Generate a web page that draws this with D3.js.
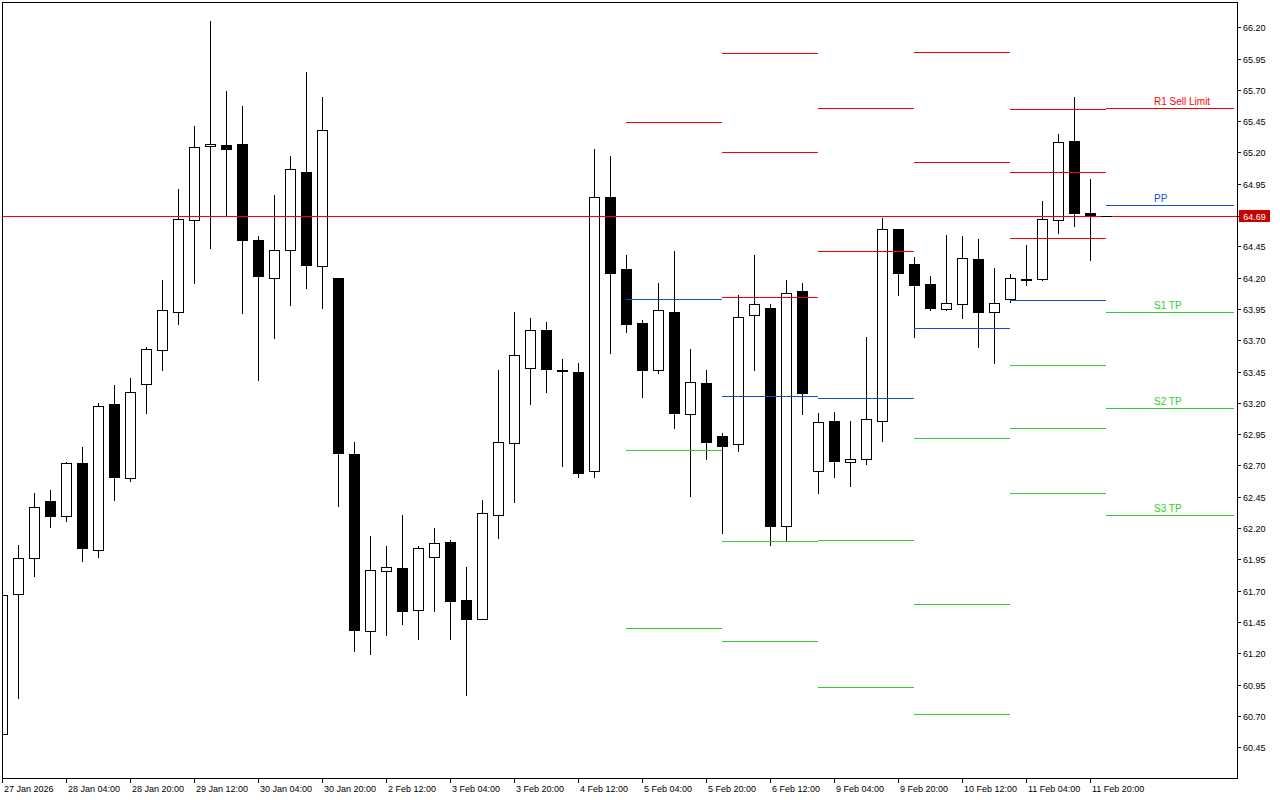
<!DOCTYPE html>
<html>
<head>
<meta charset="utf-8">
<script src="https://cdn.jsdelivr.net/npm/d3@7"></script>
<style>
html,body{margin:0;padding:0;background:#fff;}
svg{display:block;}
text{font-family:"Liberation Sans",Arial,sans-serif;}
</style>
</head>
<body>
<svg id="chart" width="1280" height="800" shape-rendering="crispEdges"></svg>
<script>
// ---- DATA (H4 candles, 27 Jan 12:00 .. 11 Feb 20:00) ----
const opens  = [60.559,61.674,61.959,62.420,62.294,62.723,62.023,63.194,62.598,63.352,63.623,63.927,64.662,65.253,65.263,65.271,64.504,64.198,64.422,65.045,64.291,64.201,62.795,61.379,61.858,61.882,61.547,61.970,62.090,61.627,61.475,62.302,62.881,63.476,63.783,63.466,63.450,62.657,64.840,64.265,63.841,63.464,63.927,63.112,63.362,62.939,62.873,63.903,63.961,62.214,64.097,62.657,63.056,62.729,62.753,63.056,64.590,64.310,64.150,63.951,63.991,64.350,63.927,64.031,64.192,64.190,64.662,65.293,64.718];
const highs  = [61.666,62.068,62.484,62.508,62.731,62.851,63.200,63.346,63.402,63.650,64.185,64.904,65.407,66.246,65.694,65.567,64.536,64.856,65.175,65.846,65.646,64.201,62.891,62.140,62.060,62.308,62.060,62.204,62.108,61.893,62.428,63.466,63.929,63.881,63.849,63.554,63.522,65.231,65.175,64.377,63.865,64.161,64.416,63.634,63.466,62.963,64.065,64.384,63.993,64.185,64.161,63.120,63.128,63.059,63.727,64.678,64.590,64.361,64.217,64.544,64.536,64.512,64.273,64.230,64.464,64.816,65.351,65.639,64.984];
const lows   = [60.559,60.841,61.815,62.206,62.254,61.935,61.967,62.422,62.574,63.120,63.460,63.828,64.155,64.435,64.694,63.916,63.380,63.716,63.980,64.115,63.956,62.374,61.216,61.192,61.344,61.432,61.312,61.535,61.312,60.865,61.475,62.119,62.406,63.189,63.285,62.694,62.606,62.606,63.596,63.764,63.245,63.436,62.997,62.454,62.750,62.158,62.813,63.460,62.063,62.100,63.109,62.478,62.606,62.534,62.713,62.893,64.063,63.724,63.940,63.940,63.876,63.644,63.519,64.007,64.139,64.182,64.555,64.611,64.339];
const closes = [61.666,61.962,62.369,62.300,62.721,62.039,63.178,62.606,63.288,63.631,63.943,64.670,65.245,65.269,65.226,64.499,64.211,64.422,65.069,64.299,65.381,62.797,61.384,61.866,61.890,61.535,62.042,62.082,61.615,61.472,62.321,62.889,63.583,63.783,63.468,63.462,62.638,64.840,64.235,63.828,63.460,63.943,63.117,63.368,62.885,62.853,63.887,63.991,62.214,64.079,63.277,63.048,62.734,62.753,63.072,64.590,64.235,64.139,63.956,63.999,64.358,63.924,63.999,64.198,64.188,64.670,65.285,64.718,64.696];

const timeLabels = ["27 Jan 2026","28 Jan 04:00","28 Jan 20:00","29 Jan 12:00","30 Jan 04:00","30 Jan 20:00","2 Feb 12:00","3 Feb 04:00","3 Feb 20:00","4 Feb 12:00","5 Feb 04:00","5 Feb 20:00","6 Feb 12:00","9 Feb 04:00","9 Feb 20:00","10 Feb 12:00","11 Feb 04:00","11 Feb 20:00"];
const timeLabelBars = [0,4,8,12,16,20,24,28,32,36,40,44,48,52,56,60,64,68];

const priceTicks = [66.20,65.95,65.70,65.45,65.20,64.95,64.45,64.20,63.95,63.70,63.45,63.20,62.95,62.70,62.45,62.20,61.95,61.70,61.45,61.20,60.95,60.70,60.45];
const currentPrice = 64.69;

// Daily pivot levels (bar index where each day starts / ends)
const pivotDays  = ["5 Feb","6 Feb","9 Feb","10 Feb","11 Feb","12 Feb"];
const pivotStart = [39,45,51,57,63,69];
const pivotEnd   = [45,51,57,63,69,77];
const pivR3 = [null,65.996,null,null,65.543,null];
const pivR2 = [null,65.205,65.556,66.004,65.045,null];
const pivR1 = [65.444,64.049,64.414,65.125,64.518,65.551];
const pivPP = [64.031,63.256,63.240,63.799,64.023,64.781];
const pivS1 = [62.825,62.098,62.106,62.920,63.504,63.927];
const pivS2 = [61.403,61.299,60.932,61.595,63.000,63.160];
const pivS3 = [null,null,null,60.716,62.481,62.305];
const lastDayLabels = {R1:"R1 Sell Limit", PP:"PP", S1:"S1 TP", S2:"S2 TP", S3:"S3 TP"};

// ---- LAYOUT ----
const L = 2, T = 2, R = 1237, B = 778;
const RED = "#ff0000", BLUE = "#1450d2", GREEN = "#33cc33";

const svg = d3.select("#chart");
const x = d3.scaleLinear().domain([0, 68]).range([2.3, 1090.3]);
const y = d3.scaleLinear().domain([60.45, 66.20]).range([747.7, 27.7]);
const px = v => Math.round(v);
const py = v => Math.floor(v);

svg.append("defs").append("clipPath").attr("id","plotclip")
  .append("rect").attr("x", L+1).attr("y", T+1).attr("width", R-L-1).attr("height", B-T-1);

const plot = svg.append("g").attr("clip-path","url(#plotclip)");

// candles
const candles = d3.range(opens.length).map(i => ({i, o:opens[i], h:highs[i], l:lows[i], c:closes[i]}));
const cg = plot.append("g");
candles.forEach(d => {
  const cx = px(x(d.i));
  const yH = py(y(d.h)), yL = py(y(d.l));
  const top = py(y(Math.max(d.o, d.c))), bot = py(y(Math.min(d.o, d.c)));
  cg.append("line").attr("x1", cx+0.5).attr("x2", cx+0.5).attr("y1", yH).attr("y2", yL+1)
    .attr("stroke","#000").attr("stroke-width",1);
  if (d.c >= d.o) {
    cg.append("rect").attr("x", cx-4.5).attr("y", top+0.5).attr("width", 10).attr("height", Math.max(bot-top,1))
      .attr("fill","#fff").attr("stroke","#000").attr("stroke-width",1);
  } else {
    cg.append("rect").attr("x", cx-5).attr("y", top).attr("width", 11).attr("height", Math.max(bot-top+1,2))
      .attr("fill","#000");
  }
});

// pivot lines
const pg = plot.append("g");
const levelSets = [
  {key:"R3", vals:pivR3, color:RED},
  {key:"R2", vals:pivR2, color:RED},
  {key:"R1", vals:pivR1, color:RED},
  {key:"PP", vals:pivPP, color:BLUE},
  {key:"S1", vals:pivS1, color:GREEN},
  {key:"S2", vals:pivS2, color:GREEN},
  {key:"S3", vals:pivS3, color:GREEN}
];
const lastDay = pivotDays.length - 1;
levelSets.forEach(ls => {
  ls.vals.forEach((v, k) => {
    if (v == null) return;
    const yy = py(y(v)) + 0.5;
    pg.append("line").attr("x1", px(x(pivotStart[k]))).attr("x2", px(x(pivotEnd[k])))
      .attr("y1", yy).attr("y2", yy).attr("stroke", ls.color).attr("stroke-width",1);
    if (k === lastDay && lastDayLabels[ls.key]) {
      pg.append("text").attr("x", px(x(72))).attr("y", yy - 4)
        .attr("font-size", 10).attr("fill", ls.color).attr("shape-rendering","auto").text(lastDayLabels[ls.key]);
    }
  });
});

// frame
svg.append("rect").attr("x", L+0.5).attr("y", T+0.5).attr("width", R-L).attr("height", B-T)
  .attr("fill","none").attr("stroke","#000").attr("stroke-width",1);

// current price line (drawn on top)
const yCur = py(y(currentPrice)) + 0.5;
svg.append("path")
  .attr("d", `M${L+1},${yCur}H${R}`)
  .attr("fill","none").attr("stroke", RED).attr("stroke-width", 1);
// last price marker right of the last bar
svg.append("path")
  .attr("d", `M${px(x(68))+11},${yCur}H${px(x(68))+22}`)
  .attr("fill","none").attr("stroke", "#000").attr("stroke-width", 1);

// price axis
const ya = svg.append("g");
priceTicks.forEach(p => {
  const yy = py(y(p)) + 0.5;
  ya.append("line").attr("x1", R).attr("x2", R+4).attr("y1", yy).attr("y2", yy).attr("stroke","#000");
  ya.append("text").attr("x", R+6).attr("y", yy+3.5).attr("font-size", 9).attr("fill","#000").text(p.toFixed(2));
});
ya.append("line").attr("x1", R).attr("x2", R+4).attr("y1", yCur).attr("y2", yCur).attr("stroke","#000");
ya.append("rect").attr("x", R+2).attr("y", yCur-6.5).attr("width", 31).attr("height", 12).attr("fill","#c80000");
ya.append("text").attr("x", R+17.5).attr("y", yCur+3.5).attr("text-anchor","middle")
  .attr("font-size", 9).attr("fill","#fff").text(currentPrice.toFixed(2));

// time axis
const xa = svg.append("g");
timeLabels.forEach((t, k) => {
  const xx = k === 0 ? L : px(x(timeLabelBars[k]));
  xa.append("line").attr("x1", xx+0.5).attr("x2", xx+0.5).attr("y1", B).attr("y2", B+5).attr("stroke","#000");
  xa.append("text").attr("x", xx+2).attr("y", B+14).attr("font-size", 9).attr("fill","#000").text(t);
});
</script>
</body>
</html>
